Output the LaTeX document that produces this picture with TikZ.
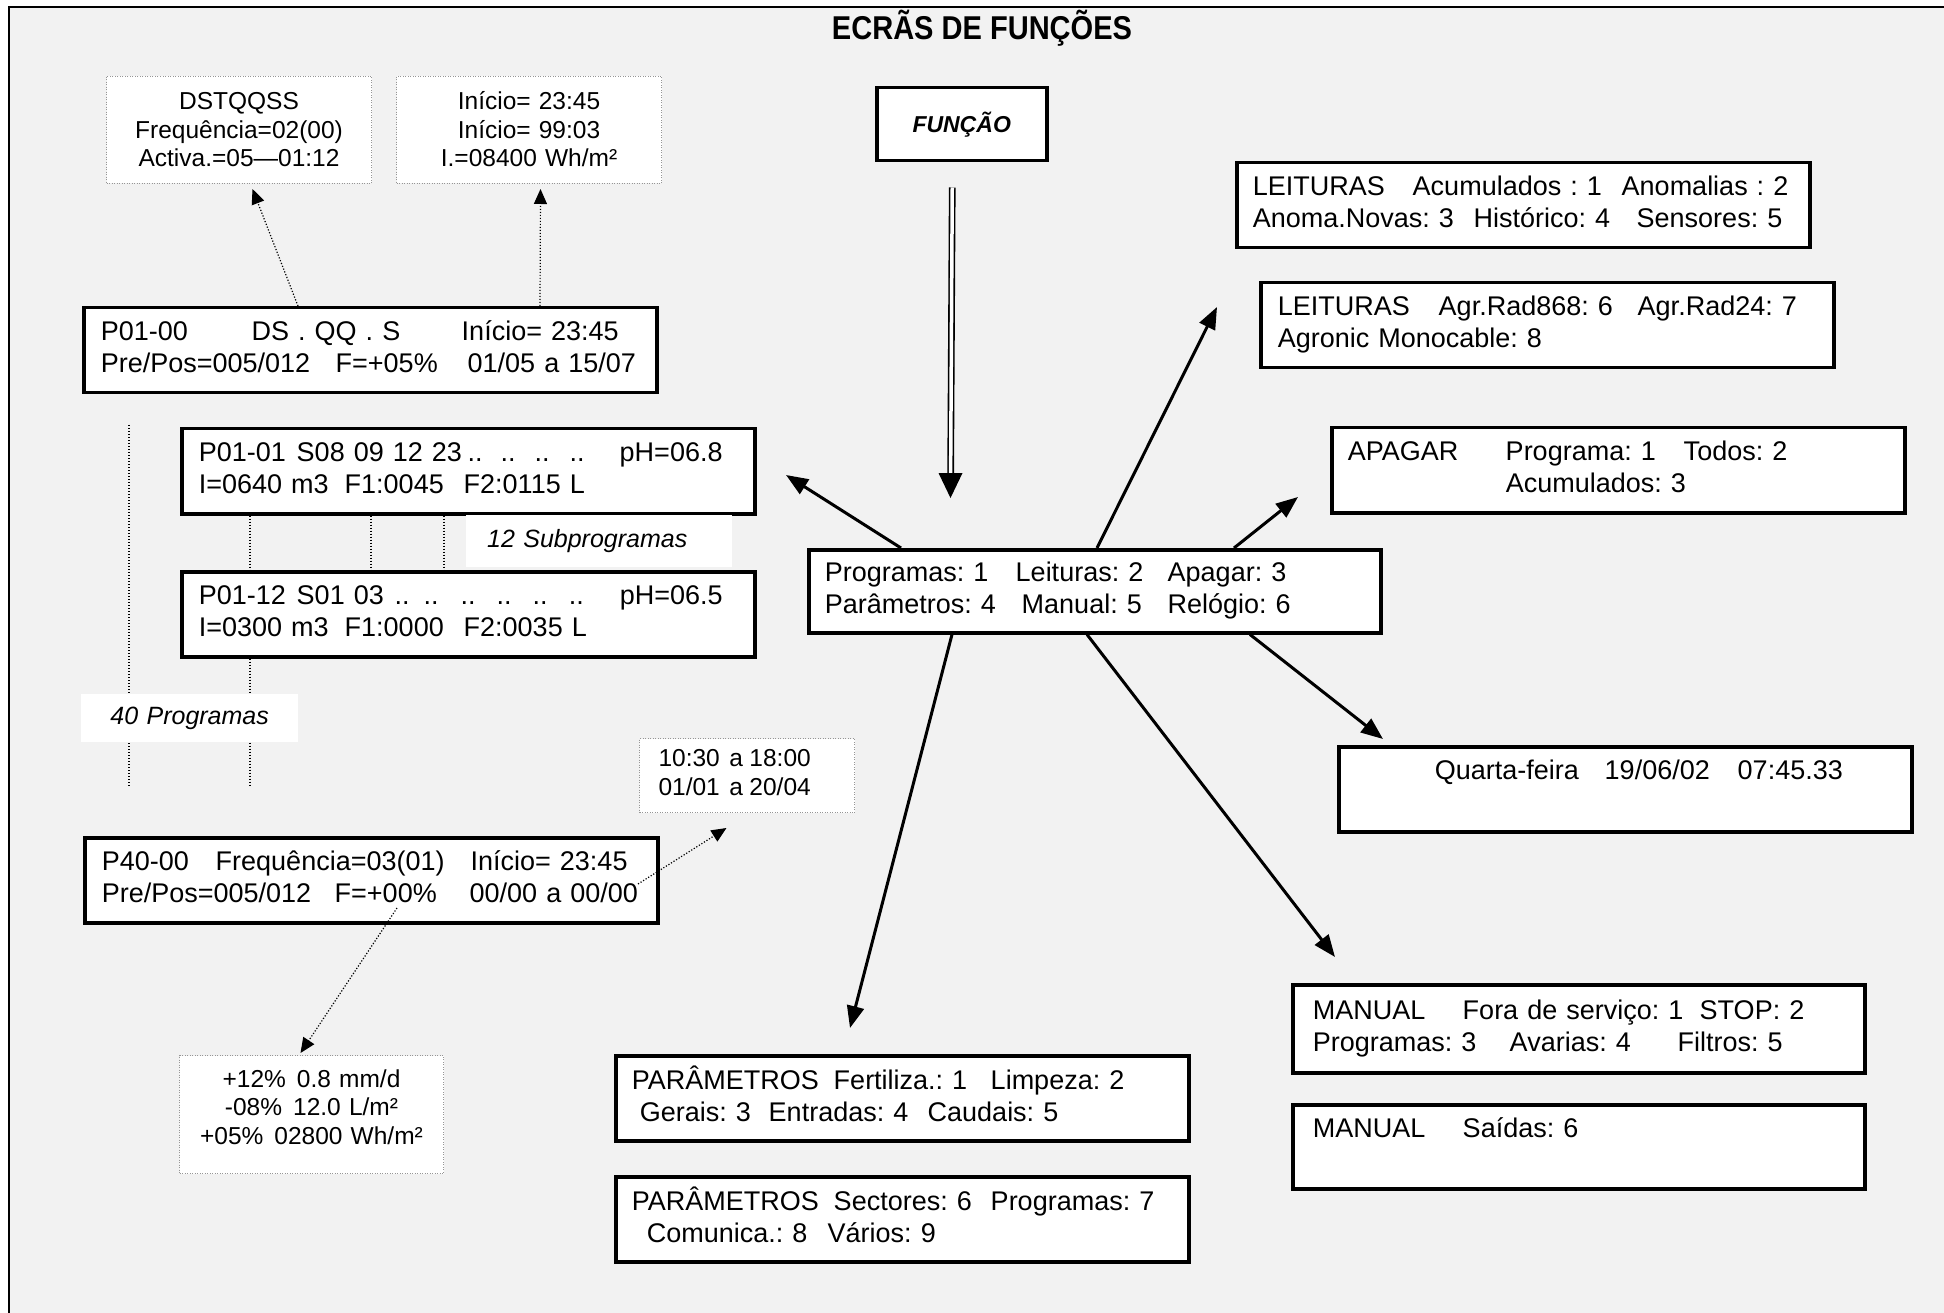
\documentclass[tikz,border=0pt]{standalone}
\usepackage{fontspec}
\setmainfont{Liberation Sans}
\usetikzlibrary{arrows.meta}
\definecolor{paper}{RGB}{242,242,242}
\definecolor{dotgray}{RGB}{150,150,150}
\setlength\parindent{0pt}
\frenchspacing
% fixed-width cell for column-aligned screen text
\newcommand\cel[2]{\makebox[#1pt][l]{#2}}
% one unbreakable text row
\newcommand\row[1]{\mbox{\strut#1}}
\newcommand\scrfont{\fontsize{27}{32}\selectfont}
\newcommand\notefont{\fontsize{24.5}{28.5}\selectfont}
\newcommand\lblfont{\fontsize{25}{30}\selectfont\itshape}

\begin{document}
\begin{tikzpicture}[x=1pt,y=-1pt,
  screen/.style={draw=black, line width=3.5pt, fill=white, anchor=north west,
    minimum width=573pt, minimum height=85pt, inner xsep=17pt, inner ysep=1pt,
    text width=539pt, align=left, font=\scrfont},
  note/.style={draw=dotgray, line width=1pt, dash pattern=on 1pt off 1.5pt,
    fill=white, anchor=north west, inner xsep=5pt, inner ysep=1pt,
    align=center, font=\notefont},
  tag/.style={fill=white, anchor=north west, inner ysep=1pt, font=\lblfont},
  link/.style={line width=3pt, -{Triangle[length=22pt,width=17pt]}},
  hint/.style={line width=1.2pt, dash pattern=on 1.2pt off 1.8pt,
    -{Triangle[length=15pt,width=13pt]}},
  guide/.style={line width=1.2pt, dash pattern=on 1.2pt off 1.8pt},
]
% page, background and frame
\useasboundingbox (0,0) rectangle (1944,1313);
\fill[white] (0,0) rectangle (1944,1313);
\fill[paper] (9,7) rectangle (1944,1313);
\draw[line width=2.5pt] (9,1313) -- (9,7) -- (1944,7);

% title
\node[anchor=base, font=\fontsize{33}{36}\selectfont\bfseries] (title) at (982,40)
  {\scalebox{0.88}[1]{ECRÃS DE FUNÇÕES}};

% program screens
\node[screen] (pA) at (82,306)
  {\row{\cel{151}{P01-00}\cel{210}{DS . QQ . S}Início= 23:45}\\
   \row{\cel{235}{Pre/Pos=005/012}\cel{132}{F=+05\%}01/05 a 15/07}};
\node[screen] (pB) at (180,427)
  {\row{\cel{98}{P01-01}\cel{171}{S08 09 12 23}\cel{33}{..}\cel{34}{..}\cel{35}{..}\cel{50}{..}pH=06.8}\\
   \row{\cel{146}{I=0640 m3}\cel{119}{F1:0045}F2:0115 L}};
\node[screen] (pC) at (180,570)
  {\row{\cel{98}{P01-12}\cel{98}{S01 03}\cel{29}{..}\cel{37}{..}\cel{36}{..}\cel{36}{..}\cel{36}{..}\cel{51}{..}pH=06.5}\\
   \row{\cel{146}{I=0300 m3}\cel{119}{F1:0000}F2:0035 L}};
\node[screen] (pD) at (83,836)
  {\row{\cel{114}{P40-00}\cel{255}{Frequência=03(01)}Início= 23:45}\\
   \row{\cel{233}{Pre/Pos=005/012}\cel{135}{F=+00\%}00/00 a 00/00}};

% function key and main menu
\node[draw=black, line width=3.5pt, fill=white, anchor=north west,
  minimum width=170pt, minimum height=73pt,
  font=\fontsize{23}{28}\selectfont\bfseries\itshape] (fn) at (875,86) {FUNÇÃO};
\node[screen, text width=540pt, inner xsep=16pt, minimum width=572pt, minimum height=83pt] (menu) at (807,548)
  {\row{\cel{191}{Programas: 1}\cel{152}{Leituras: 2}Apagar: 3}\\
   \row{\cel{197}{Parâmetros: 4}\cel{146}{Manual: 5}Relógio: 6}};

% sub-menu screens
\node[screen, inner xsep=16pt, text width=541pt] (rd1) at (1235,161)
  {\row{\cel{160}{LEITURAS}\cel{209}{Acumulados : 1}Anomalias : 2}\\
   \row{\cel{221}{Anoma.Novas: 3}\cel{163}{Histórico: 4}Sensores: 5}};
\node[screen] (rd2) at (1259,281)
  {\row{\cel{161}{LEITURAS}\cel{199}{Agr.Rad868: 6}Agr.Rad24: 7}\\
   \row{Agronic Monocable: 8}};
\node[screen, inner xsep=16pt, text width=541pt] (del) at (1330,426)
  {\row{\cel{158}{APAGAR}\cel{178}{Programa: 1}Todos: 2}\\
   \row{\cel{158}{}Acumulados: 3}};
\node[screen, inner xsep=96pt, text width=381pt] (clk) at (1337,745)
  {\row{\cel{170}{Quarta-feira}\cel{133}{19/06/02}07:45.33}\\
   \row{}};
\node[screen, inner xsep=16pt, text width=541pt] (par1) at (614,1054)
  {\row{\cel{202}{PARÂMETROS}\cel{157}{Fertiliza.: 1}Limpeza: 2}\\
   \row{\hspace*{8pt}\cel{129}{Gerais: 3}\cel{159}{Entradas: 4}Caudais: 5}};
\node[screen, inner xsep=16pt, text width=541pt] (par2) at (614,1175)
  {\row{\cel{202}{PARÂMETROS}\cel{157}{Sectores: 6}Programas: 7}\\
   \row{\hspace*{15pt}\cel{181}{Comunica.: 8}Vários: 9}};
\node[screen, inner xsep=20pt, text width=532pt, minimum width=572pt, minimum height=88pt] (man1) at (1291,983)
  {\row{\cel{150}{MANUAL}\cel{237}{Fora de serviço: 1}STOP: 2}\\
   \row{\cel{197}{Programas: 3}\cel{168}{Avarias: 4}Filtros: 5}};
\node[screen, inner xsep=20pt, text width=532pt, minimum width=572pt, minimum height=84pt] (man2) at (1291,1103)
  {\row{\cel{150}{MANUAL}Saídas: 6}\\
   \row{}};

% detail notes (dotted frames)
\node[note, minimum width=265pt, minimum height=107pt, text width=255pt, text depth=60.5pt] (n1) at (106,76)
  {\row{DSTQQSS}\\\row{Frequência=02(00)}\\\row{Activa.=05—01:12}};
\node[note, minimum width=265pt, minimum height=107pt, text width=255pt, text depth=60.5pt] (n2) at (396,76)
  {\row{Início= 23:45}\\\row{Início= 99:03}\\\row{I.=08400 Wh/m²}};
\node[note, minimum width=215pt, minimum height=74pt, inner xsep=19pt, text width=177pt, align=left] (n3) at (639,738)
  {\row{\cel{71}{10:30}\cel{20}{a}18:00}\\\row{\cel{71}{01/01}\cel{20}{a}20/04}};
\node[note, minimum width=264pt, minimum height=118pt, text width=254pt, text depth=74pt] (n4) at (179,1055)
  {\row{+12\%\hspace{0.45em}0.8 mm/d}\\\row{-08\%\hspace{0.45em}12.0 L/m²}\\\row{+05\%\hspace{0.45em}02800 Wh/m²}};

% dotted guides between program screens
\coordinate (g1a) at (129,425);
\coordinate (g1b) at (129,787);
\coordinate (g2b) at (250,787);
\draw[guide] (g1a) -- (g1b);
\draw[guide] ([xshift=70pt]pB.south west) -- ([xshift=70pt]pC.north west);
\draw[guide] ([xshift=191pt]pB.south west) -- ([xshift=191pt]pC.north west);
\draw[guide] ([xshift=264pt]pB.south west) -- ([xshift=264pt]pC.north west);
\draw[guide] ([xshift=70pt]pC.south west) -- (g2b);

% count labels
\node[tag, minimum width=266pt, minimum height=52pt, inner xsep=21pt, text width=224pt, align=left] (sub) at (466,515) {12 Subprogramas};
\node[tag, minimum width=217pt, minimum height=48pt, inner xsep=5pt, text width=207pt, align=center] (prg) at (81,694) {40 Programas};

% dotted detail arrows
\draw[hint] ([xshift=216pt]pA.north west) -- ([xshift=13.5pt,yshift=-5pt]n1.south);
\draw[hint] ([xshift=458pt]pA.north west) -- ([xshift=11.5pt,yshift=-5pt]n2.south);
\draw[hint] ([xshift=555pt,yshift=-48pt]pD.north west) -- ([xshift=-20.5pt,yshift=-15pt]n3.south);
\draw[hint] ([xshift=314pt,yshift=-72pt]pD.north west) -- ([xshift=-11pt,yshift=2pt]n4.north);

% function key into the main menu (double shaft)
\coordinate (tF) at (950.5,498);
\draw[double, double distance=3.5pt, line width=1.6pt, shorten >=23pt]
  ([xshift=-9.5pt,yshift=-25pt]fn.south) -- (tF);
\fill (tF) -- ++(-12,-25) -- ++(24,0) -- cycle;

% menu branches
\coordinate (tB) at (786,475);
\coordinate (tH) at (1217,307);
\coordinate (tI) at (1298,497);
\coordinate (tJ) at (1383,739);
\coordinate (tK) at (850,1028);
\coordinate (tM) at (1335,957);
\draw[link] ([xshift=94pt]menu.north west) -- (tB);
\draw[link] ([xshift=290pt]menu.north west) -- (tH);
\draw[link] ([xshift=427pt]menu.north west) -- (tI);
\draw[link] ([xshift=443pt]menu.south west) -- (tJ);
\draw[link] ([xshift=145pt]menu.south west) -- (tK);
\draw[link] ([xshift=280pt]menu.south west) -- (tM);
\end{tikzpicture}
\end{document}
